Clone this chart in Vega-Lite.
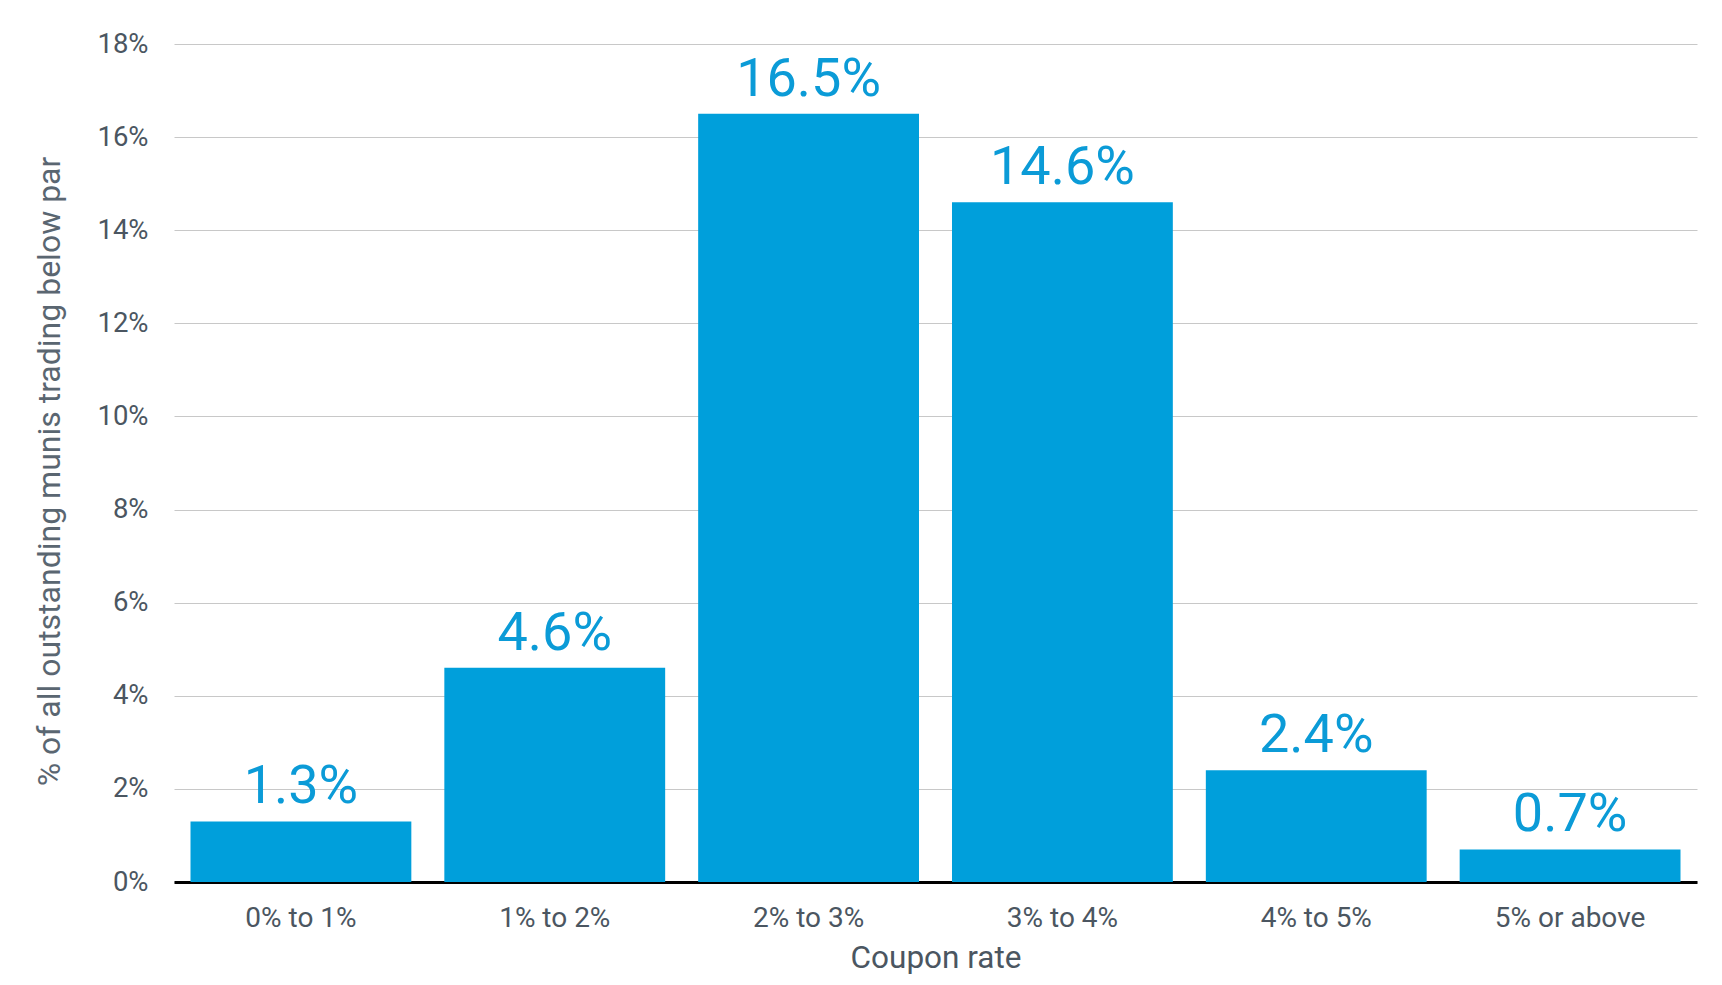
{
  "$schema": "https://vega.github.io/schema/vega-lite/v6.json",
  "width": 1523,
  "height": 838,
  "autosize": {"type": "none"},
  "padding": {"left": 174, "top": 44, "right": 25, "bottom": 103},
  "background": "white",
  "config": {
    "font": "Roboto",
    "view": {"stroke": null}
  },
  "data": {
    "values": [
      {"coupon": "0% to 1%", "share": 1.3},
      {"coupon": "1% to 2%", "share": 4.6},
      {"coupon": "2% to 3%", "share": 16.5},
      {"coupon": "3% to 4%", "share": 14.6},
      {"coupon": "4% to 5%", "share": 2.4},
      {"coupon": "5% or above", "share": 0.7}
    ]
  },
  "transform": [
    {"calculate": "format(datum.share, '.1f') + '%'", "as": "label"}
  ],
  "encoding": {
    "x": {
      "field": "coupon",
      "type": "nominal",
      "sort": null,
      "title": "Coupon rate",
      "scale": {"paddingInner": 0.13, "paddingOuter": 0.065},
      "axis": {
        "labelAngle": 0,
        "labelFontSize": 28,
        "labelColor": "#4b5661",
        "labelBaseline": "alphabetic",
        "labelPadding": 44,
        "ticks": false,
        "tickSize": 0,
        "domainColor": "#000000",
        "domainWidth": 3,
        "titleFontSize": 31.5,
        "titleFontWeight": "normal",
        "titleColor": "#4b5661",
        "titleBaseline": "alphabetic",
        "titleY": 85
      }
    },
    "y": {
      "field": "share",
      "type": "quantitative",
      "title": "% of all outstanding munis trading below par",
      "scale": {"domain": [0, 18], "nice": false},
      "axis": {
        "values": [0, 2, 4, 6, 8, 10, 12, 14, 16, 18],
        "labelExpr": "datum.value + '%'",
        "labelFontSize": 27.5,
        "labelColor": "#4b5661",
        "labelPadding": 26,
        "ticks": false,
        "tickSize": 0,
        "domain": false,
        "gridColor": "#c8c8c8",
        "gridWidth": 1,
        "titleFontSize": 32,
        "titleFontWeight": "normal",
        "titleColor": "#5a6671",
        "titleBaseline": "alphabetic",
        "titleX": -115,
        "titleY": 427
      }
    }
  },
  "layer": [
    {
      "mark": {"type": "bar", "color": "#009fdb"}
    },
    {
      "mark": {
        "type": "text",
        "baseline": "alphabetic",
        "dy": -18,
        "fontSize": 54,
        "color": "#0b9bd7"
      },
      "encoding": {
        "text": {"field": "label", "type": "nominal"}
      }
    }
  ]
}
